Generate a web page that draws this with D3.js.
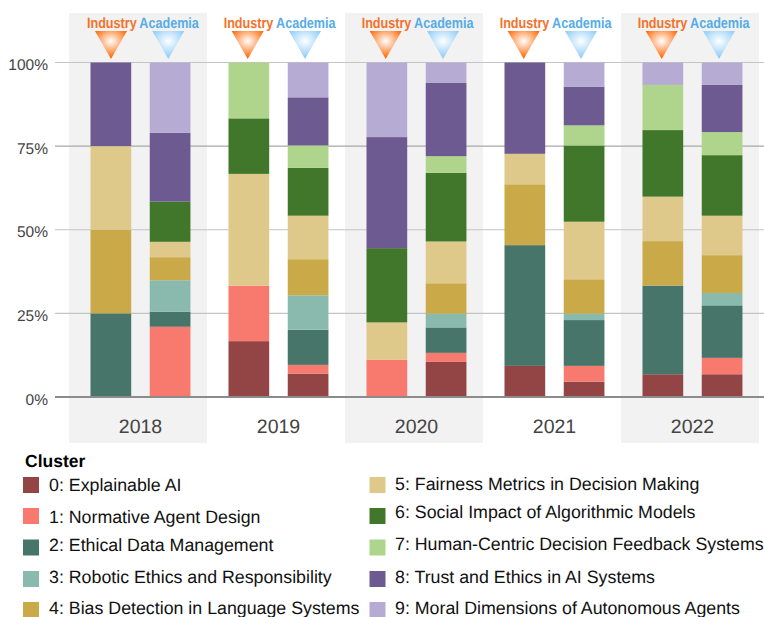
<!DOCTYPE html>
<html><head><meta charset="utf-8">
<script src="https://cdn.jsdelivr.net/npm/d3@7"></script>
<style>html,body{margin:0;padding:0;background:#fff}svg{display:block}text{font-family:"Liberation Sans",Arial,sans-serif;text-rendering:geometricPrecision}</style>
</head><body><svg id="c" width="764" height="617"></svg>
<script>
const years = ["2018","2019","2020","2021","2022"];
const sectors = ["Industry","Academia"];
const clusters = ["0: Explainable AI","1: Normative Agent Design","2: Ethical Data Management","3: Robotic Ethics and Responsibility","4: Bias Detection in Language Systems","5: Fairness Metrics in Decision Making","6: Social Impact of Algorithmic Models","7: Human-Centric Decision Feedback Systems","8: Trust and Ethics in AI Systems","9: Moral Dimensions of Autonomous Agents"];
const colors = ["#934545","#F8796E","#47756A","#89BAAD","#C9A948","#DEC98A","#41772A","#AFD48B","#6C5A90","#B6ABD3"];
const yTicks = [0,25,50,75,100];
// share (%) per cluster, one array per bar
const industry2018 = [0,0,25,0,25,25,0,0,25,0];
const academia2018 = [0,21,4.5,9.4,6.9,4.6,12,0,20.6,21];
const industry2019 = [16.7,16.6,0,0,0,33.4,16.6,16.7,0,0];
const academia2019 = [7,2.6,10.5,10.3,10.8,13,14.3,6.7,14.4,10.4];
const industry2020 = [0,11.1,0,0,0,11.2,22.2,0,33.2,22.3];
const academia2020 = [10.5,2.7,7.6,4.1,9.1,12.5,20.5,5,22,6];
const industry2021 = [9.3,0,36.1,0,18.2,9.1,0,0,27.3,0];
const academia2021 = [4.6,4.7,13.7,1.9,10.3,17.2,22.8,6,11.6,7.2];
const industry2022 = [6.8,0,26.5,0,13.3,13.3,19.9,13.5,0,6.7];
const academia2022 = [6.8,4.9,15.7,3.7,11.3,11.8,18.1,6.9,14.1,6.7];
const bars = [
 ["2018","Industry",industry2018],["2018","Academia",academia2018],
 ["2019","Industry",industry2019],["2019","Academia",academia2019],
 ["2020","Industry",industry2020],["2020","Academia",academia2020],
 ["2021","Industry",industry2021],["2021","Academia",academia2021],
 ["2022","Industry",industry2022],["2022","Academia",academia2022]];

const svg = d3.select("#c");
const x = d3.scaleBand().domain(years).range([69,759]);
const xi = d3.scaleBand().domain(sectors).range([0,x.bandwidth()]).paddingInner(0.313).paddingOuter(0.321).align(0.565);
const xm = d3.scalePoint().domain(sectors).range([40.7,98]);
const markerX = d => x(d[0]) + xm(d[1]) + (d[0]==="2018" ? 1.3 : 0);
const y = d3.scaleLinear().domain([0,100]).range([397,62.5]);

const defs = svg.append("defs");
[["gradI","#FF6600"],["gradA","#8CCBF8"]].forEach(([id,c])=>{
  const g = defs.append("radialGradient").attr("id",id).attr("cx","50%").attr("cy","36%").attr("r","60%");
  g.append("stop").attr("offset","0%").attr("stop-color","#fff");
  g.append("stop").attr("offset","100%").attr("stop-color",c);
});

// panels
svg.append("g").selectAll("rect").data(years.filter((d,i)=>i%2===0)).join("rect")
  .attr("x",d=>x(d)).attr("y",13).attr("width",x.bandwidth()).attr("height",430).attr("fill","#F2F2F2");

// grid
svg.append("g").selectAll("line").data(yTicks).join("line")
  .attr("x1",55).attr("x2",764).attr("y1",d=>y(d)).attr("y2",d=>y(d))
  .attr("stroke",d=>d===0?"#8c8c8c":(d===75?"#a8a8a8":"#c4c4c4")).attr("stroke-width",d=>d===0?2:1.2);

// y labels
svg.append("g").selectAll("text").data(yTicks).join("text")
  .attr("x",48).attr("y",d=>y(d)+7.5).attr("text-anchor","end").attr("font-size",15.5).attr("fill","#444")
  .text(d=>d+"%");

// bars
const stack = d3.stack().keys(d3.range(clusters.length)).value((b,k)=>b[2][k]);
svg.append("g").selectAll("g").data(stack(bars)).join("g").attr("fill",s=>colors[s.key])
  .selectAll("rect").data(s=>s.filter(d=>d[1]-d[0]>0)).join("rect")
  .attr("x",d=>x(d.data[0])+xi(d.data[1])).attr("width",xi.bandwidth())
  .attr("y",d=>y(d[1])).attr("height",d=>y(d[0])-y(d[1]));

// redraw baseline above bars
svg.append("line").attr("x1",55).attr("x2",764).attr("y1",y(0)).attr("y2",y(0)).attr("stroke","#8c8c8c").attr("stroke-width",2);

// year labels
svg.append("g").selectAll("text").data(years).join("text")
  .attr("x",d=>x(d)+x.bandwidth()/2+2.5).attr("y",433).attr("text-anchor","middle").attr("font-size",19.5).attr("fill","#444").text(d=>d);

// sector markers
const tri = d3.line();
const marks = svg.append("g").selectAll("g").data(d3.cross(years,sectors)).join("g")
  .attr("transform",d=>`translate(${markerX(d)},0)`);
marks.append("path").attr("d",tri([[-16,31],[16,31],[0,59]])).attr("fill",d=>d[1]==="Industry"?"url(#gradI)":"url(#gradA)");
marks.append("text").attr("transform","translate(0.8,27.5) scale(0.84,1)").attr("text-anchor","middle").attr("font-size",15).attr("font-weight","bold")
  .attr("fill",d=>d[1]==="Industry"?"#F4722B":"#55ACE6").text(d=>d[1]);

// legend
svg.append("text").attr("x",25).attr("y",467).attr("font-size",17.5).attr("font-weight","bold").attr("fill","#000").text("Cluster");
const swY = [477,508,539.5,571,602];
const txtY = [491,523,551,583,614];
const txtYR = [490,518,550,583,614];
const lg = svg.append("g").selectAll("g").data(clusters).join("g");
lg.append("rect").attr("x",(d,i)=>i<5?23:369.5).attr("y",(d,i)=>swY[i%5]).attr("width",16).attr("height",16).attr("fill",(d,i)=>colors[i]);
lg.append("text").attr("x",(d,i)=>i<5?49:395).attr("y",(d,i)=>(i<5?txtY:txtYR)[i%5]).attr("font-size",17.8).attr("fill","#111").text(d=>d);
</script></body></html>
